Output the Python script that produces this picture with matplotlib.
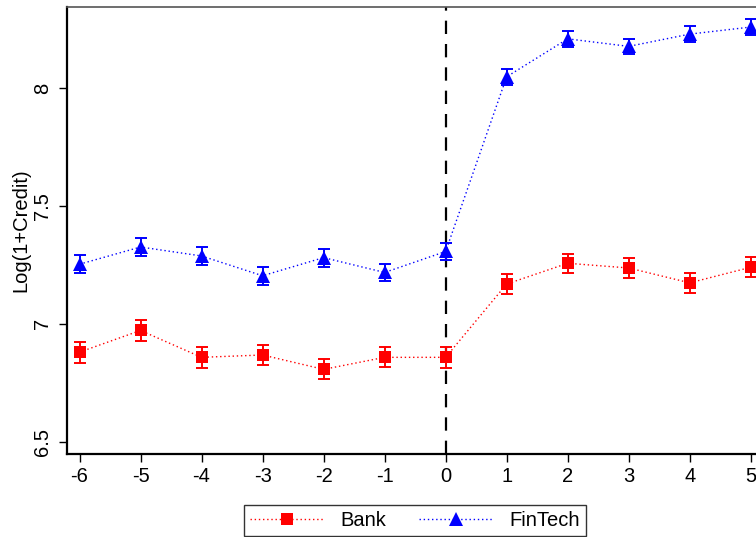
import numpy as np
import matplotlib
matplotlib.use("Agg")
import matplotlib.pyplot as plt

plt.rcParams['font.family'] = ['Liberation Sans', 'DejaVu Sans']

# event time relative to entry
periods = [-6, -5, -4, -3, -2, -1, 0, 1, 2, 3, 4, 5]

# point estimates
bank = [6.880, 6.972, 6.858, 6.868, 6.807, 6.858, 6.858, 7.169, 7.257, 7.237, 7.174, 7.240]
fintech = [7.253, 7.326, 7.288, 7.204, 7.281, 7.218, 7.307, 8.048, 8.209, 8.177, 8.229, 8.259]

# half width of the confidence bands
bank_err = [0.044, 0.044, 0.044, 0.043, 0.042, 0.043, 0.044, 0.041, 0.040, 0.042, 0.042, 0.042]
fintech_err = [0.038, 0.038, 0.038, 0.039, 0.038, 0.037, 0.036, 0.034, 0.034, 0.033, 0.034, 0.034]

yticks = [6.5, 7, 7.5, 8]

fig = plt.figure(figsize=(7.56, 5.37), dpi=100)
ax = fig.add_axes([67 / 756, 83 / 537, 1 - 67 / 756, 447 / 537])

red = '#ff0000'
blue = '#0000ff'

ax.axvline(0, color='black', lw=1.6, linestyle=(0, (6, 4.5)), zorder=1)

ax.errorbar(periods, bank, yerr=bank_err, fmt='none', ecolor=red,
            elinewidth=1.4, capsize=4, capthick=1.4, zorder=2)
ax.errorbar(periods, fintech, yerr=fintech_err, fmt='none', ecolor=blue,
            elinewidth=1.4, capsize=4, capthick=1.4, zorder=2)

ax.plot(periods, bank, color=red, lw=1, linestyle=(0, (1, 2)),
        marker='s', markersize=8, markeredgewidth=0, label='Bank', zorder=3)
ax.plot(periods, fintech, color=blue, lw=1, linestyle=(0, (1, 2)),
        marker='^', markersize=9.5, markeredgewidth=0, label='FinTech', zorder=3)

ax.set_xlim(-6.205, 5.086)
ax.set_ylim(6.448, 8.344)
ax.set_xticks(periods)
ax.set_xticklabels([str(p) for p in periods])
ax.set_yticks(yticks)
ax.set_yticklabels(['6.5', '7', '7.5', '8'], rotation=90, va='center')
ax.tick_params(axis='both', labelsize=14.5, length=5.5, width=1, colors='black')
ax.tick_params(axis='x', pad=4)
ax.tick_params(axis='y', pad=5)

ax.set_ylabel('Log(1+Credit)', fontsize=14.5, labelpad=2)

ax.spines['right'].set_visible(False)
ax.spines['left'].set_linewidth(1.6)
ax.spines['bottom'].set_linewidth(1.6)
ax.spines['top'].set_linewidth(1.2)
ax.spines['top'].set_color('#555555')

leg = fig.legend(loc='lower center', bbox_to_anchor=(415 / 756, 0.0), ncol=2,
                 fontsize=14.5, frameon=True, fancybox=False, edgecolor='black',
                 handlelength=3.7, numpoints=1, columnspacing=1.6, handletextpad=0.8,
                 borderpad=0.3, borderaxespad=0.05)
leg.get_frame().set_linewidth(1)

fig.savefig('out.png', dpi=100)
